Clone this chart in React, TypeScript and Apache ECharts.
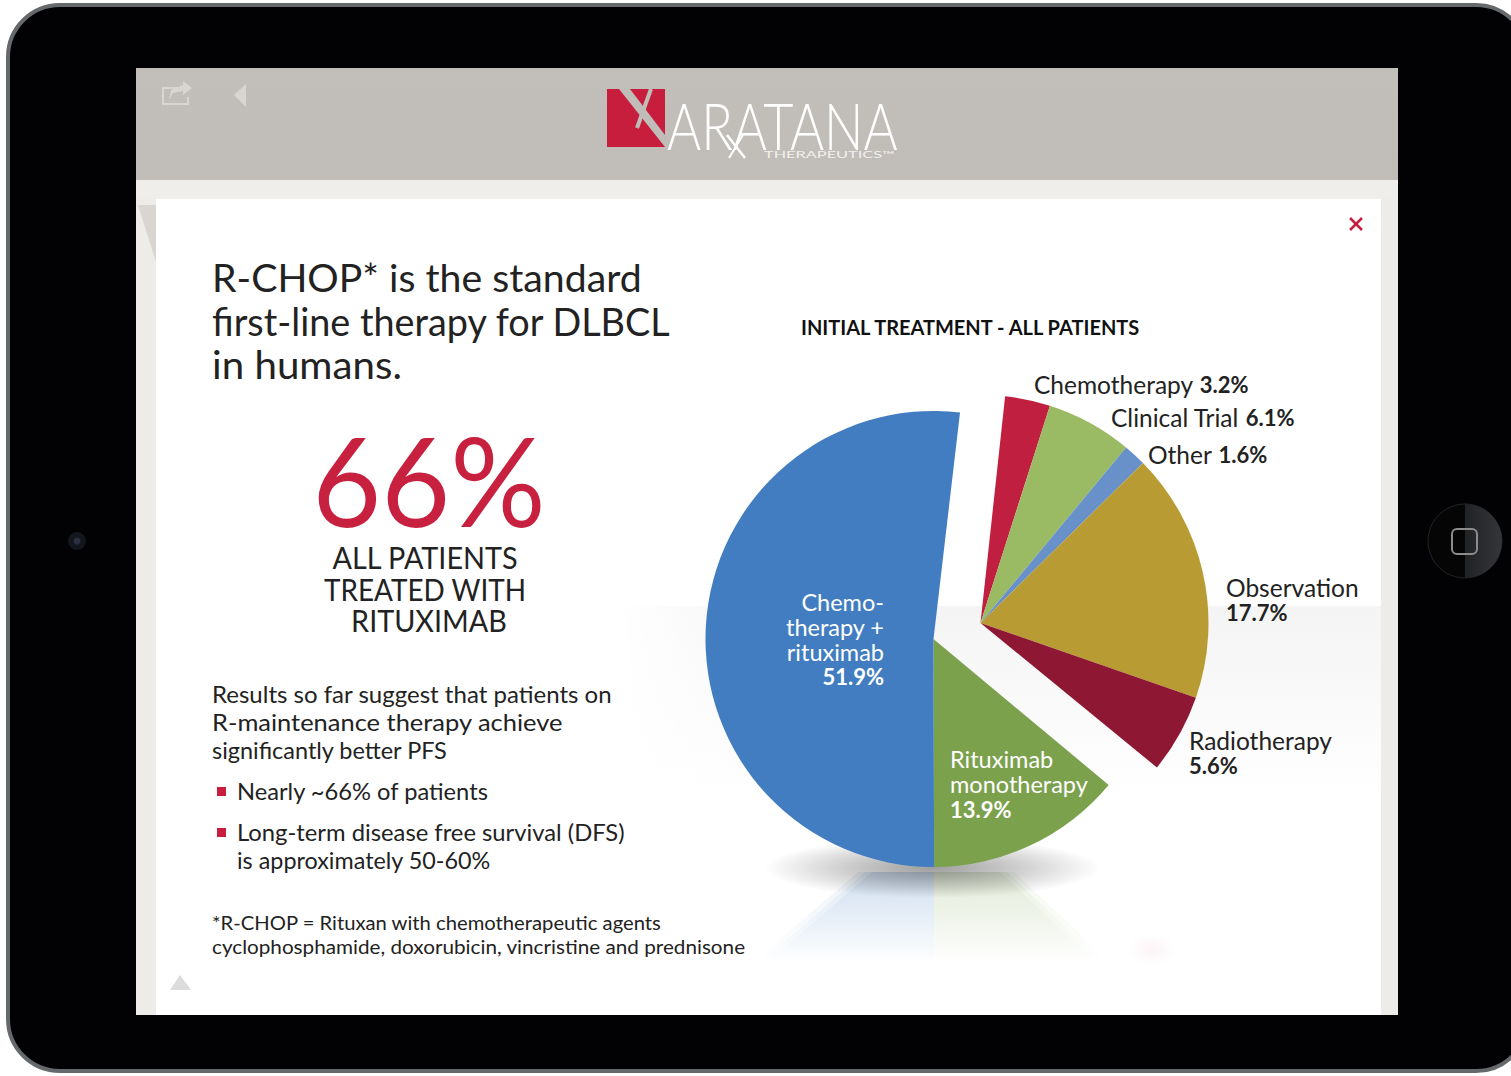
import React, { useEffect, useRef } from "react";
import * as echarts from "echarts";

const FONT = "Lato";

const groupedNames = ["Rituximab monotherapy", "Chemotherapy + rituximab"];
const groupedValues = [13.9, 51.9];
const groupedColors = ["#7ba14d", "#417dc0"];
const groupedLabels = [
  ["Rituximab", "monotherapy"],
  ["Chemo-", "therapy +", "rituximab"],
];

const explodedNames = ["Chemotherapy", "Clinical Trial", "Other", "Observation", "Radiotherapy"];
const explodedValues = [3.2, 6.1, 1.6, 17.7, 5.6];
const explodedColors = ["#c01f40", "#9aba63", "#6890c9", "#b89c33", "#8e1733"];

const groupedLabelPos = [
  { x: 950, y: 784, align: "left" },
  { x: 884, y: 639, align: "right" },
];
const explodedLabelPos = [
  { x: 1034, y: 384 },
  { x: 1111, y: 417 },
  { x: 1148, y: 454 },
  { x: 1226, y: 600 },
  { x: 1189, y: 753 },
];
const twoLine = [false, false, false, true, true];

const headingLines = ["R-CHOP* is the standard", "first-line therapy for DLBCL", "in humans."];
const headingFit = [1.033, 0.995, 1.06];
const calloutLines = ["ALL PATIENTS", "TREATED WITH", "RITUXIMAB"];
const bodyLines = ["Results so far suggest that patients on", "R-maintenance therapy achieve", "significantly better PFS"];
const bodyFit = [1.045, 1.107, 1.02];
const bulletLines = ["Nearly ~66% of patients", "Long-term disease free survival (DFS)", "is approximately 50-60%"];
const bulletFit = [1.03, 1.035, 1.016];
const footLines = ["*R-CHOP = Rituxan with chemotherapeutic agents", "cyclophosphamide, doxorubicin, vincristine and prednisone"];
const footFit = [1.011, 1.035];

const sum = (a: number[]) => a.reduce((p, c) => p + c, 0);

function txt(x: number, y: number, text: string, fontSize: number, extra: any = {}, scaleX = 1) {
  const { align = "left", fill = "#222", fontWeight = 400 } = extra;
  return {
    type: "text", x, y, scaleX, originX: 0, originY: 0,
    style: { text, fontSize, fontFamily: FONT, fontWeight, fill, align, verticalAlign: "middle" },
  };
}
const vGrad = (stops: [number, string][]) => ({
  type: "linear", x: 0, y: 0, x2: 0, y2: 1, colorStops: stops.map(([offset, color]) => ({ offset, color })),
});
const hGrad = (stops: [number, string][]) => ({
  type: "linear", x: 0, y: 0, x2: 1, y2: 0, colorStops: stops.map(([offset, color]) => ({ offset, color })),
});
const softEdges = [0, 7, 14];

export default function App() {
  const ref = useRef<HTMLDivElement>(null);
  useEffect(() => {
    const chart = echarts.init(ref.current!, null, { renderer: "svg" });
    const rich = (color: string, size: number) => ({
      n: { fontFamily: FONT, fontSize: size, fontWeight: 400, color, lineHeight: 25 },
      b: { fontFamily: FONT, fontSize: 22, fontWeight: 700, color, lineHeight: 25 },
    });
    const startA = -39.8;
    const startB = 83.8;
    const option: any = {
      animation: false,
      backgroundColor: "#ffffff",
      graphic: [
        { type: "rect", shape: { x: 8, y: 5, width: 1520, height: 1066, r: 52 }, style: { fill: "#020204", stroke: "#66696c", lineWidth: 4 } },
        { type: "rect", shape: { x: 136, y: 68, width: 1262, height: 947 }, style: { fill: "#eeece8" } },
        { type: "rect", shape: { x: 136, y: 68, width: 1262, height: 112 }, style: { fill: vGrad([[0, "#c2bfba"], [1, "#c0bcb8"]]) } },
        { type: "rect", shape: { x: 136, y: 180, width: 1262, height: 19 }, style: { fill: "#f0eeea" } },
        { type: "polygon", shape: { points: [[138, 205], [156, 205], [156, 262]] }, style: { fill: "#d9d6d1" } },
        { type: "rect", shape: { x: 156, y: 199, width: 1225, height: 816 }, style: { fill: "#ffffff" } },
        { type: "rect", shape: { x: 620, y: 606, width: 761, height: 190 }, style: { fill: vGrad([[0, "#f4f4f4"], [1, "#ffffff"]]) } },
        { type: "rect", shape: { x: 620, y: 606, width: 150, height: 190 }, style: { fill: hGrad([[0, "#ffffff"], [1, "rgba(255,255,255,0)"]]) } },
        // logo
        { type: "rect", shape: { x: 607, y: 89, width: 58, height: 58 }, style: { fill: "#c81e3e" } },
        { type: "polygon", shape: { points: [[619, 89], [630, 89], [665, 135], [665, 147]] }, style: { fill: "#c0bcb8" } },
        { type: "line", shape: { x1: 651, y1: 89, x2: 637, y2: 128 }, style: { stroke: "#c0bcb8", lineWidth: 4 } },
        txt(667, 124, "ARATANA", 66, { fill: "#ffffff", fontWeight: 300 }, 0.79),
        { type: "line", shape: { x1: 727, y1: 135, x2: 745, y2: 158 }, style: { stroke: "#ffffff", lineWidth: 2.5 } },
        { type: "line", shape: { x1: 743, y1: 135, x2: 729, y2: 158 }, style: { stroke: "#ffffff", lineWidth: 2 } },
        txt(764, 154, "THERAPEUTICS\u2122", 9.5, { fill: "#f2f0ee" }, 1.72),
        // header icons
        { type: "polyline", shape: { points: [[180, 88], [163, 88], [163, 104], [188, 104], [188, 97]] }, style: { fill: "none", stroke: "#d8d6d3", lineWidth: 2 } },
        { type: "polygon", shape: { points: [[183, 81], [192, 88], [183, 95], [183, 91], [173, 93], [169, 100], [171, 90], [183, 85]] }, style: { fill: "#d8d6d3" } },
        { type: "polygon", shape: { points: [[246, 84], [234, 95], [246, 107]] }, style: { fill: "#d8d6d3" } },
        { type: "line", shape: { x1: 1350, y1: 218, x2: 1362, y2: 230 }, style: { stroke: "#c81e3e", lineWidth: 2.5 } },
        { type: "line", shape: { x1: 1362, y1: 218, x2: 1350, y2: 230 }, style: { stroke: "#c81e3e", lineWidth: 2.5 } },
        // device hardware
        { type: "circle", shape: { cx: 77, cy: 541, r: 9 }, style: { fill: "#14161e" } },
        { type: "circle", shape: { cx: 77, cy: 541, r: 3.5 }, style: { fill: "#2a3040" } },
        { type: "circle", shape: { cx: 1465, cy: 541, r: 37 }, style: { fill: "#050506", stroke: "#222426", lineWidth: 1 } },
        { type: "sector", shape: { cx: 1465, cy: 541, r: 37, startAngle: -Math.PI / 2, endAngle: Math.PI / 2 }, style: { fill: hGrad([[0, "#202224"], [1, "#34363a"]]) } },
        { type: "rect", shape: { x: 1452, y: 529, width: 25, height: 25, r: 5 }, style: { fill: "none", stroke: "#8c8c8c", lineWidth: 2 } },
        // corner triangle
        { type: "polygon", shape: { points: [[170, 990], [180, 975], [191, 990]] }, style: { fill: "#dcdcdc" } },
        // pie floor reflection and shadow
        ...softEdges.map((d) => ({ type: "polygon", shape: { points: [[872 - d, 872], [934, 872], [934, 962], [768 - d, 962]] }, style: { fill: vGrad([[0, "rgba(65,125,192,0.09)"], [1, "rgba(65,125,192,0)"]]) } })),
        ...softEdges.map((d) => ({ type: "polygon", shape: { points: [[934, 872], [1000 + d, 872], [1096 + d, 962], [934, 962]] }, style: { fill: vGrad([[0, "rgba(123,161,77,0.08)"], [1, "rgba(123,161,77,0)"]]) } })),
        { type: "ellipse", shape: { cx: 932, cy: 868, rx: 168, ry: 30 }, style: { fill: { type: "radial", x: 0.5, y: 0.5, r: 0.5, colorStops: [{ offset: 0, color: "rgba(0,0,0,0.38)" }, { offset: 0.55, color: "rgba(0,0,0,0.18)" }, { offset: 1, color: "rgba(0,0,0,0)" }] } } },
        { type: "ellipse", shape: { cx: 1152, cy: 950, rx: 24, ry: 16 }, style: { fill: { type: "radial", x: 0.5, y: 0.5, r: 0.5, colorStops: [{ offset: 0, color: "rgba(192,31,64,0.05)" }, { offset: 1, color: "rgba(192,31,64,0)" }] } } },
        // text
        ...headingLines.map((s, i) => txt(212, [277, 321, 364][i], s, 38, {}, headingFit[i])),
        txt(429, 479, "66%", 124, { fill: "#c8203f", align: "center" }, 0.96),
        ...calloutLines.map((s, i) => txt(425 + [0, 0, 4][i], [557, 589, 620][i], s, 30, { align: "center" }, [0.96, 0.93, 0.96][i])),
        ...bodyLines.map((s, i) => txt(212, [694, 722, 750][i], s, 23, {}, bodyFit[i])),
        { type: "rect", shape: { x: 217, y: 787, width: 9, height: 9 }, style: { fill: "#c81e3e" } },
        { type: "rect", shape: { x: 217, y: 828, width: 9, height: 9 }, style: { fill: "#c81e3e" } },
        ...bulletLines.map((s, i) => txt(237, [791, 832, 860][i], s, 23, {}, bulletFit[i])),
        ...footLines.map((s, i) => txt(212, [922, 946][i], s, 20, {}, footFit[i])),
      ],
      title: {
        text: "INITIAL TREATMENT - ALL PATIENTS",
        left: 796, top: 312,
        textStyle: { fontFamily: FONT, fontSize: 20, fontWeight: 700, color: "#111" },
      },
      series: [
        {
          type: "pie", center: [933.5, 639], radius: [0, 228], clockwise: true,
          startAngle: startA, endAngle: startA - sum(groupedValues) * 3.6,
          silent: true, avoidLabelOverlap: false,
          labelLine: { show: false },
          labelLayout: (p: any) => {
            const q = groupedLabelPos[p.dataIndex];
            return { x: q.x, y: q.y, align: q.align, verticalAlign: "middle" };
          },
          data: groupedNames.map((name, i) => ({
            name, value: groupedValues[i], itemStyle: { color: groupedColors[i] },
            label: {
              show: true, position: "inside", rich: rich("#ffffff", 23.5),
              formatter: [...groupedLabels[i].map((l) => `{n|${l}}`), `{b|${groupedValues[i].toFixed(1)}%}`].join("\n"),
            },
          })),
        },
        {
          type: "pie", center: [980.5, 623], radius: [0, 228], clockwise: true,
          startAngle: startB, endAngle: startB - sum(explodedValues) * 3.6,
          silent: true, avoidLabelOverlap: false,
          labelLine: { show: false },
          labelLayout: (p: any) => {
            const q = explodedLabelPos[p.dataIndex];
            return { x: q.x, y: q.y, align: "left", verticalAlign: "middle" };
          },
          data: explodedNames.map((name, i) => ({
            name, value: explodedValues[i], itemStyle: { color: explodedColors[i] },
            label: {
              show: true, position: "inside", rich: rich("#222222", 24.5),
              formatter: `{n|${name}}${twoLine[i] ? "\n" : "  "}{b|${explodedValues[i].toFixed(1)}%}`,
            },
          })),
        },
      ],
    };
    chart.setOption(option);
    return () => chart.dispose();
  }, []);
  return <div ref={ref} style={{ position: "absolute", left: 0, top: 0, width: 1511, height: 1076 }} />;
}
